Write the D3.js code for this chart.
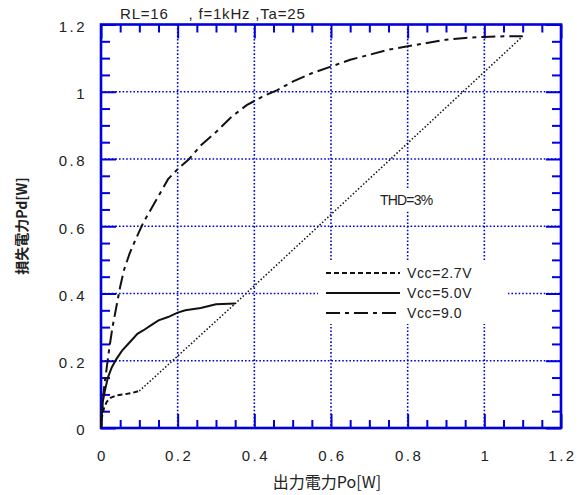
<!DOCTYPE html>
<html>
<head>
<meta charset="utf-8">
<script src="https://cdnjs.cloudflare.com/ajax/libs/d3/7.8.5/d3.min.js"></script>
<style>
  body { margin: 0; background: white; }
  svg text { font-family: "Liberation Sans", Arial, sans-serif; fill: #222; }
</style>
</head>
<body>
<div id="chart"></div>
<script>
// tick values and labels
var xTicks = [0, 0.2, 0.4, 0.6, 0.8, 1, 1.2];
var yTicks = [0, 0.2, 0.4, 0.6, 0.8, 1, 1.2];
var tickLabels = ["0", "0.2", "0.4", "0.6", "0.8", "1", "1.2"];
var minorTicks = [0.05, 0.1, 0.15, 0.25, 0.3, 0.35, 0.45, 0.5, 0.55, 0.65, 0.7, 0.75, 0.85, 0.9, 0.95, 1.05, 1.1, 1.15];

// Vcc=2.7V
var po27 = [0, 0.003, 0.008, 0.015, 0.025, 0.04, 0.06, 0.08, 0.1];
var pd27 = [0, 0.035, 0.06, 0.078, 0.09, 0.097, 0.1, 0.104, 0.11];
// Vcc=5.0V
var po50 = [0, 0.002, 0.005, 0.01, 0.018, 0.028, 0.04, 0.055, 0.075, 0.095, 0.11, 0.13, 0.15, 0.175, 0.2, 0.22, 0.26, 0.3, 0.35];
var pd50 = [0, 0.04, 0.08, 0.11, 0.15, 0.18, 0.205, 0.23, 0.255, 0.28, 0.29, 0.305, 0.32, 0.33, 0.343, 0.35, 0.357, 0.368, 0.37];
// Vcc=9.0
var po90 = [0, 0.003, 0.008, 0.015, 0.022, 0.03, 0.04, 0.05, 0.06, 0.075, 0.09, 0.11, 0.13, 0.15, 0.175, 0.2, 0.21, 0.23, 0.26, 0.3, 0.34, 0.38, 0.42, 0.46, 0.5, 0.55, 0.6, 0.65, 0.7, 0.75, 0.8, 0.85, 0.9, 0.95, 1.0, 1.05, 1.1];
var pd90 = [0, 0.06, 0.12, 0.18, 0.24, 0.3, 0.36, 0.42, 0.47, 0.52, 0.56, 0.61, 0.65, 0.69, 0.74, 0.77, 0.78, 0.8, 0.84, 0.88, 0.925, 0.96, 0.985, 1.005, 1.03, 1.055, 1.075, 1.095, 1.11, 1.125, 1.135, 1.145, 1.155, 1.16, 1.163, 1.165, 1.165];
// THD=3% line
var poTHD = [0.1, 0.35, 1.1];
var pdTHD = [0.11, 0.37, 1.165];

var legendNames = ["Vcc=2.7V", "Vcc=5.0V", "Vcc=9.0"];

var blue = "#0000dd";
var W = 586, H = 495;
var pl = 101, pr = 561, pt = 24.5, pb = 428;

var svg = d3.select("#chart").append("svg")
    .attr("width", W)
    .attr("height", H);

var x = d3.scaleLinear().domain([0, 1.2]).range([pl, pr]);
var y = d3.scaleLinear().domain([0, 1.2]).range([pb, pt]);

// grid
svg.append("g").selectAll("line")
    .data(xTicks.slice(1, -1))
    .enter().append("line")
    .attr("x1", function (d) { return x(d) }).attr("x2", function (d) { return x(d) })
    .attr("y1", pt).attr("y2", pb)
    .attr("stroke", blue).attr("stroke-width", 1.6).attr("stroke-dasharray", "1.6,2");
svg.append("g").selectAll("line")
    .data(yTicks.slice(1, -1))
    .enter().append("line")
    .attr("y1", function (d) { return y(d) }).attr("y2", function (d) { return y(d) })
    .attr("x1", pl).attr("x2", pr)
    .attr("stroke", blue).attr("stroke-width", 1.6).attr("stroke-dasharray", "1.6,2");

// ticks on all four sides, pointing inward
function ticks(axis, vals, size, tr) {
    var g = svg.append("g").attr("transform", tr)
        .call(axis.tickValues(vals).tickSize(size).tickFormat(""));
    g.select(".domain").remove();
    g.selectAll("line").attr("stroke", blue).attr("stroke-width", 2);
}
ticks(d3.axisBottom(x), minorTicks, -8, "translate(0," + pb + ")");
ticks(d3.axisBottom(x), xTicks, -14, "translate(0," + pb + ")");
ticks(d3.axisTop(x), minorTicks, -8, "translate(0," + pt + ")");
ticks(d3.axisTop(x), xTicks, -14, "translate(0," + pt + ")");
ticks(d3.axisLeft(y), minorTicks, -9, "translate(" + pl + ",0)");
ticks(d3.axisLeft(y), yTicks, -15, "translate(" + pl + ",0)");
ticks(d3.axisRight(y), minorTicks, -9, "translate(" + pr + ",0)");
ticks(d3.axisRight(y), yTicks, -15, "translate(" + pr + ",0)");

// tick labels
var xa = svg.append("g").attr("transform", "translate(0," + pb + ")")
    .call(d3.axisBottom(x).tickValues(xTicks).tickSize(0).tickPadding(22)
        .tickFormat(function (d, i) { return tickLabels[i] }));
xa.select(".domain").remove();
xa.selectAll("text").attr("font-size", 15).attr("letter-spacing", 2.5).attr("fill", "#222")
    .attr("font-family", "Liberation Sans, Arial, sans-serif").attr("dx", 1);

var ya = svg.append("g").attr("transform", "translate(" + pl + ",0)")
    .call(d3.axisLeft(y).tickValues(yTicks).tickSize(0).tickPadding(14)
        .tickFormat(function (d, i) { return tickLabels[i] }));
ya.select(".domain").remove();
ya.selectAll("text").attr("font-size", 15).attr("letter-spacing", 2.5).attr("fill", "#222")
    .attr("font-family", "Liberation Sans, Arial, sans-serif").attr("dy", "0.45em");

// frame
svg.append("rect")
    .attr("x", pl).attr("y", pt)
    .attr("width", pr - pl).attr("height", pb - pt)
    .attr("fill", "none").attr("stroke", blue).attr("stroke-width", 2.6);

// curves
var line = d3.line()
    .x(function (d) { return x(d[0]) })
    .y(function (d) { return y(d[1]) });

function pairs(a, b) { return a.map(function (v, i) { return [v, b[i]] }) }

var series = [
    { xs: po27, ys: pd27, dash: "5,3" },
    { xs: po50, ys: pd50, dash: null },
    { xs: po90, ys: pd90, dash: "14,5,4,5" }
];

svg.append("path")
    .attr("d", line(pairs(poTHD, pdTHD)))
    .attr("fill", "none").attr("stroke", "#111").attr("stroke-width", 1.5)
    .attr("stroke-dasharray", "1.5,2");

series.forEach(function (s) {
    svg.append("path")
        .attr("d", line(pairs(s.xs, s.ys)))
        .attr("fill", "none").attr("stroke", "#111").attr("stroke-width", 2)
        .attr("stroke-dasharray", s.dash);
});

// THD label
svg.append("rect").attr("x", 376).attr("y", 188).attr("width", 62).attr("height", 22).attr("fill", "white");
svg.append("text").attr("x", 380).attr("y", 205)
    .attr("font-size", 14).attr("letter-spacing", -0.8)
    .text("THD=3%");

// legend
svg.append("rect").attr("x", 318).attr("y", 262).attr("width", 190).attr("height", 62).attr("fill", "white");
legendNames.forEach(function (name, i) {
    var ly = 273 + i * 20;
    svg.append("line")
        .attr("x1", 326).attr("x2", 400)
        .attr("y1", ly).attr("y2", ly)
        .attr("stroke", "#111").attr("stroke-width", 2)
        .attr("stroke-dasharray", series[i].dash);
    svg.append("text").attr("x", 407).attr("y", ly + 5)
        .attr("font-size", 14).attr("letter-spacing", 0.6)
        .text(name);
});

// titles
svg.append("text").attr("x", 120).attr("y", 19)
    .attr("font-size", 15).attr("letter-spacing", 0.8)
    .style("white-space", "pre")
    .text("RL=16    , f=1kHz ,Ta=25");

svg.append("text").attr("x", 327).attr("y", 488)
    .attr("text-anchor", "middle").attr("font-size", 16)
    .style("font-family", "'Noto Sans CJK JP', 'Liberation Sans', sans-serif")
    .text("出力電力Po[W]");

svg.append("text")
    .attr("transform", "translate(27,226) rotate(-90)")
    .attr("text-anchor", "middle").attr("font-size", 14).attr("font-weight", "bold")
    .style("font-family", "'Noto Sans CJK JP', 'Liberation Sans', sans-serif")
    .text("損失電力Pd[W]");
</script>
</body>
</html>
